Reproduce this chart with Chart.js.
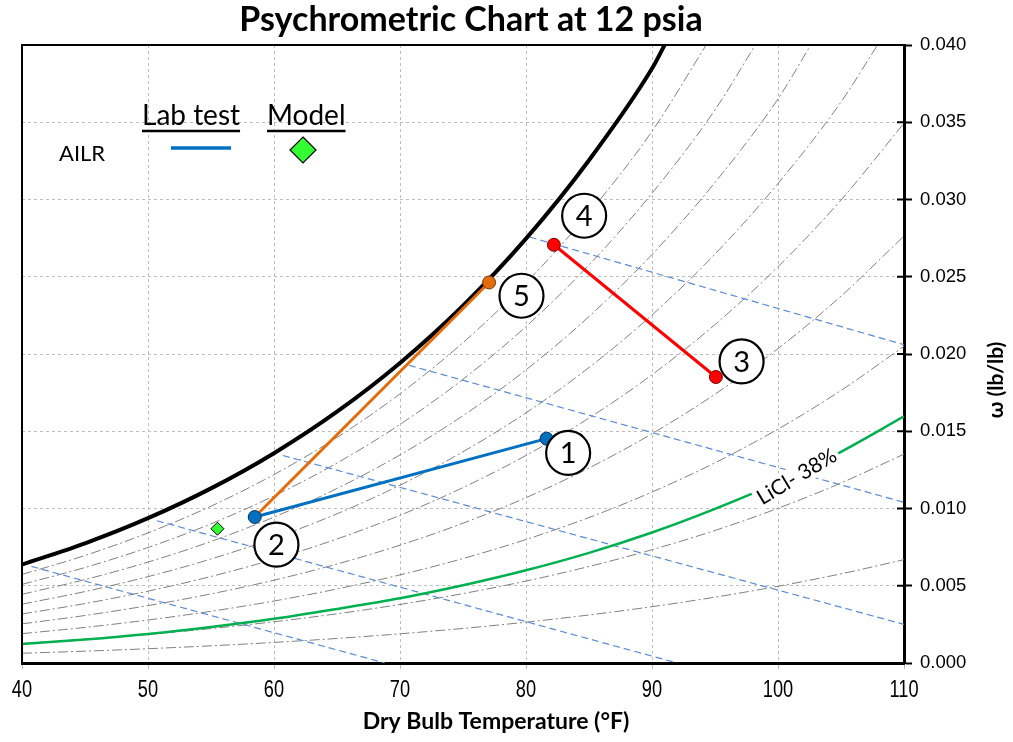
<!DOCTYPE html>
<html><head><meta charset="utf-8">
<script src="https://cdn.jsdelivr.net/npm/chart.js@4.4.0/dist/chart.umd.min.js"></script>
<style>html,body{margin:0;padding:0;background:#fff;}#wrap{width:1013px;height:742px;}</style>
</head><body><div id="wrap"><canvas id="c" width="1013" height="742"></canvas></div>
<script>
// ---------- data ----------
const temps = [40,45,50,55,60,65,70,75,80,85,90,95,100,105,110];
const xTicks = [40,50,60,70,80,90,100,110];
const yTicks = [0,0.005,0.010,0.015,0.020,0.025,0.030,0.035,0.040];
// relative humidity curves (grey dash-dot), omega at each temperature
const rh10 = [0.000632,0.000766,0.000925,0.001112,0.001332,0.001589,0.001889,0.002238,0.002641,0.003108,0.003645,0.004261,0.004966,0.005771,0.006687];
const rh20 = [0.001264,0.001533,0.001852,0.002228,0.002669,0.003186,0.003790,0.004492,0.005305,0.006247,0.007332,0.008580,0.010012,0.011650,0.013520];
const rh30 = [0.001899,0.002303,0.002782,0.003348,0.004012,0.004792,0.005702,0.006762,0.007992,0.009417,0.011063,0.012959,0.015139,0.017640,0.020503];
const rh40 = [0.002534,0.003075,0.003715,0.004472,0.005361,0.006405,0.007626,0.009048,0.010702,0.012620,0.014839,0.017400,0.020350,0.023744,0.027640];
const rh50 = [0.003171,0.003848,0.004651,0.005600,0.006716,0.008027,0.009561,0.011352,0.013435,0.015856,0.018660,0.021903,0.025648,0.029966,0.034938];
const rh60 = [0.003809,0.004623,0.005590,0.006732,0.008077,0.009657,0.011509,0.013672,0.016193,0.019124,0.022528,0.026470,0.031033,0.036309];
const rh70 = [0.004448,0.005400,0.006531,0.007868,0.009444,0.011296,0.013469,0.016009,0.018974,0.022427,0.026442,0.031103,0.036509];
const rh80 = [0.005089,0.006180,0.007475,0.009008,0.010816,0.012943,0.015441,0.018364,0.021779,0.025763,0.030404,0.035802];
const rh90 = [0.005731,0.006961,0.008422,0.010152,0.012195,0.014599,0.017425,0.020736,0.024609,0.029134,0.034414];
const sat  = [0.006374,0.007744,0.009372,0.011301,0.013579,0.016264,0.019421,0.023125,0.027464,0.032541,0.038475];
// temperature where each curve leaves the top of the chart (omega = 0.040)
const topT = {rh60:107.9, rh70:102.6, rh80:98.2, rh90:94.3, sat:91.0};
// LiCl 38% equilibrium curve
const licl = [0.00123,0.00152,0.00188,0.00233,0.00286,0.00350,0.00419,0.00503,0.00600,0.00713,0.00845,0.00998,0.01169,0.01367,0.01596];
// constant-enthalpy lines (blue dashed): [T start, T end], [omega start, omega end]
const hT = [[40.75,68.8],[50.7,92.0],[60.7,110],[70.7,110],[80.3,110]];
const hW = [[0.00625,0],[0.00921,0],[0.01343,0.0025],[0.01927,0.0104],[0.02757,0.0206]];
// test state points 1..5
const ptNames = ['1','2','3','4','5'];
const ptT = [81.63,58.47,95.07,82.21,77.07];
const ptW = [0.01452,0.00945,0.01851,0.02707,0.02463];
// model point
const modelT = [55.51];
const modelW = [0.00869];

// ---------- helpers ----------
function curve(vals, endT){
  const pts = vals.map((w,i)=>({x:temps[i], y:w}));
  if (endT !== undefined) pts.push({x:endT, y:0.040});
  return pts;
}
function pt(i){ return {x:ptT[i], y:ptW[i]}; }

const GREY = '#808080';
const rhStyle = {type:'line', borderColor:GREY, borderWidth:1, borderDash:[10,3,2,3], pointRadius:0, cubicInterpolationMode:'monotone', order:20, clip:0};
const datasets = [];
[[rh10],[rh20],[rh30],[rh40],[rh50],[rh60,topT.rh60],[rh70,topT.rh70],[rh80,topT.rh80],[rh90,topT.rh90]].forEach(([v,e])=>{
  datasets.push(Object.assign({}, rhStyle, {data:curve(v,e)}));
});
hT.forEach((t,i)=>{
  datasets.push({type:'line', data:[{x:t[0],y:hW[i][0]},{x:t[1],y:hW[i][1]}], borderColor:'#5B8BD0', borderWidth:1.2, borderDash:[7,4], pointRadius:0, order:19, clip:0});
});
datasets.push({type:'line', data:curve(sat, topT.sat), borderColor:'#000', borderWidth:4, pointRadius:0, cubicInterpolationMode:'monotone', order:10, clip:0});
datasets.push({type:'line', data:curve(licl), borderColor:'#00B050', borderWidth:2.5, pointRadius:0, cubicInterpolationMode:'monotone', order:10, clip:0});
// lab test lines
datasets.push({type:'line', data:[pt(1),pt(4)], borderColor:'#E46C0A', borderWidth:3, pointRadius:[0,6.5], pointBackgroundColor:'#E46C0A', pointBorderColor:'#7a3a05', pointBorderWidth:1, order:4});
datasets.push({type:'line', data:[pt(1),pt(0)], borderColor:'#0070C0', borderWidth:3, pointRadius:6.5, pointBackgroundColor:'#0070C0', pointBorderColor:'#0b2f55', pointBorderWidth:1, order:3});
datasets.push({type:'line', data:[pt(3),pt(2)], borderColor:'#FF0000', borderWidth:3, pointRadius:6.5, pointBackgroundColor:'#FF0000', pointBorderColor:'#7a0000', pointBorderWidth:1, order:3});
datasets.push({type:'scatter', data:modelT.map((t,i)=>({x:t,y:modelW[i]})), pointStyle:'rectRot', pointRadius:6.5, backgroundColor:'#33FF33', borderColor:'#000', borderWidth:1, order:2});

// ---------- layout (pixels) ----------
const labelOffsets = [[21.6,14.3],[21.7,27.7],[25.7,-15.6],[30.3,-29],[32.4,13.3]];
const liclLabel = {x:101.5, y:0.01206, angle:-31, text:'LiCl- 38%'};

const overlay = {
  id:'overlay',
  afterDatasetsDraw(chart){
    const {ctx, scales:{x,y}} = chart;
    ctx.save();
    // LiCl label
    const lx = x.getPixelForValue(liclLabel.x), ly = y.getPixelForValue(liclLabel.y);
    ctx.translate(lx, ly); ctx.rotate(liclLabel.angle*Math.PI/180);
    ctx.font = '21px Lato';
    const tw = ctx.measureText(liclLabel.text).width;
    ctx.fillStyle = '#fff'; ctx.fillRect(-tw/2-3, -12, tw+6, 23);
    ctx.fillStyle = '#000'; ctx.textAlign='center'; ctx.textBaseline='middle';
    ctx.fillText(liclLabel.text, 0, 0);
    ctx.restore();
    // numbered circles
    ctx.save();
    ptNames.forEach((n,i)=>{
      const cx = x.getPixelForValue(ptT[i]) + labelOffsets[i][0];
      const cy = y.getPixelForValue(ptW[i]) + labelOffsets[i][1];
      ctx.beginPath(); ctx.arc(cx, cy, 22, 0, Math.PI*2);
      ctx.fillStyle='#fff'; ctx.fill();
      ctx.lineWidth=2.2; ctx.strokeStyle='#000'; ctx.stroke();
      ctx.fillStyle='#000'; ctx.font='29px Lato'; ctx.textAlign='center'; ctx.textBaseline='middle';
      ctx.fillText(n, cx, cy+1);
    });
    ctx.restore();
  },
  afterDraw(chart){
    const {ctx, chartArea:a, scales:{x,y}} = chart;
    ctx.save();
    ctx.strokeStyle='#000'; ctx.lineWidth=2;
    ctx.beginPath(); ctx.moveTo(a.left, a.bottom); ctx.lineTo(a.left, a.top); ctx.lineTo(a.right, a.top); ctx.stroke();
    // inner half of cross tick marks on the right axis
    ctx.lineWidth=2;
    yTicks.forEach(v=>{ const py=y.getPixelForValue(v); ctx.beginPath(); ctx.moveTo(a.right-7, py); ctx.lineTo(a.right, py); ctx.stroke(); });
    // x tick labels (condensed)
    ctx.fillStyle='#000'; ctx.textAlign='center'; ctx.textBaseline='middle';
    ctx.font="24px 'Liberation Sans'";
    xTicks.forEach(v=>{
      ctx.save(); ctx.translate(x.getPixelForValue(v), 690); ctx.scale(0.76,1); ctx.fillText(String(v), 0, 0); ctx.restore();
    });
    // titles
    ctx.font='bold 34px Lato';
    ctx.fillText('Psychrometric Chart at 12 psia', 471, 20);
    ctx.font='bold 23px Lato';
    ctx.fillText('Dry Bulb Temperature (°F)', 496, 722);
    ctx.save(); ctx.translate(996, 380); ctx.rotate(-Math.PI/2);
    ctx.font='bold 21px Lato'; ctx.fillText('ω (lb/lb)', 0, 0); ctx.restore();
    // key
    ctx.textAlign='left'; ctx.textBaseline='alphabetic';
    ctx.font='28px Lato';
    [['Lab test',142],['Model',267]].forEach(([t,px])=>{
      ctx.fillText(t, px, 125);
      const w = ctx.measureText(t).width;
      ctx.lineWidth=2.5; ctx.beginPath(); ctx.moveTo(px,131); ctx.lineTo(px+w,131); ctx.stroke();
    });
    ctx.font='22px Lato'; ctx.fillText('AILR', 59, 161);
    ctx.strokeStyle='#0070C0'; ctx.lineWidth=3.5;
    ctx.beginPath(); ctx.moveTo(171,148); ctx.lineTo(231,148); ctx.stroke();
    ctx.beginPath(); ctx.moveTo(303,137); ctx.lineTo(316,150); ctx.lineTo(303,163); ctx.lineTo(290,150); ctx.closePath();
    ctx.fillStyle='#33FF33'; ctx.fill(); ctx.strokeStyle='#000'; ctx.lineWidth=1.2; ctx.stroke();
    ctx.restore();
  }
};

new Chart(document.getElementById('c'), {
  type:'scatter',
  data:{datasets},
  options:{
    responsive:false, animation:false, devicePixelRatio:1,
    layout:{padding:{left:22, top:45, right:0, bottom:0}},
    plugins:{legend:{display:false}, tooltip:{enabled:false}, title:{display:false}},
    scales:{
      x:{type:'linear', min:40, max:110, position:'bottom',
        afterBuildTicks:s=>{s.ticks = xTicks.map(v=>({value:v}));},
        afterFit:s=>{s.height = 79;},
        grid:{color:'#BDBDBD', lineWidth:1, drawTicks:true, tickLength:6, tickColor:'#BDBDBD'},
        border:{display:true, color:'#000', width:3, dash:[3,3]},
        ticks:{display:false}
      },
      y:{type:'linear', min:0, max:0.04, position:'right',
        afterBuildTicks:s=>{s.ticks = yTicks.map(v=>({value:v}));},
        afterFit:s=>{s.width = 109;},
        grid:{color:'#BDBDBD', lineWidth:1, drawTicks:true, tickLength:8, tickColor:'#000', tickWidth:2, tickBorderDash:[]},
        border:{display:true, color:'#000', width:3, dash:[3,3]},
        ticks:{color:'#000', font:{family:"'Liberation Sans'", size:18.5}, padding:8, callback:v=>Number(v).toFixed(3)}
      }
    }
  },
  plugins:[overlay]
});
</script></body></html>
